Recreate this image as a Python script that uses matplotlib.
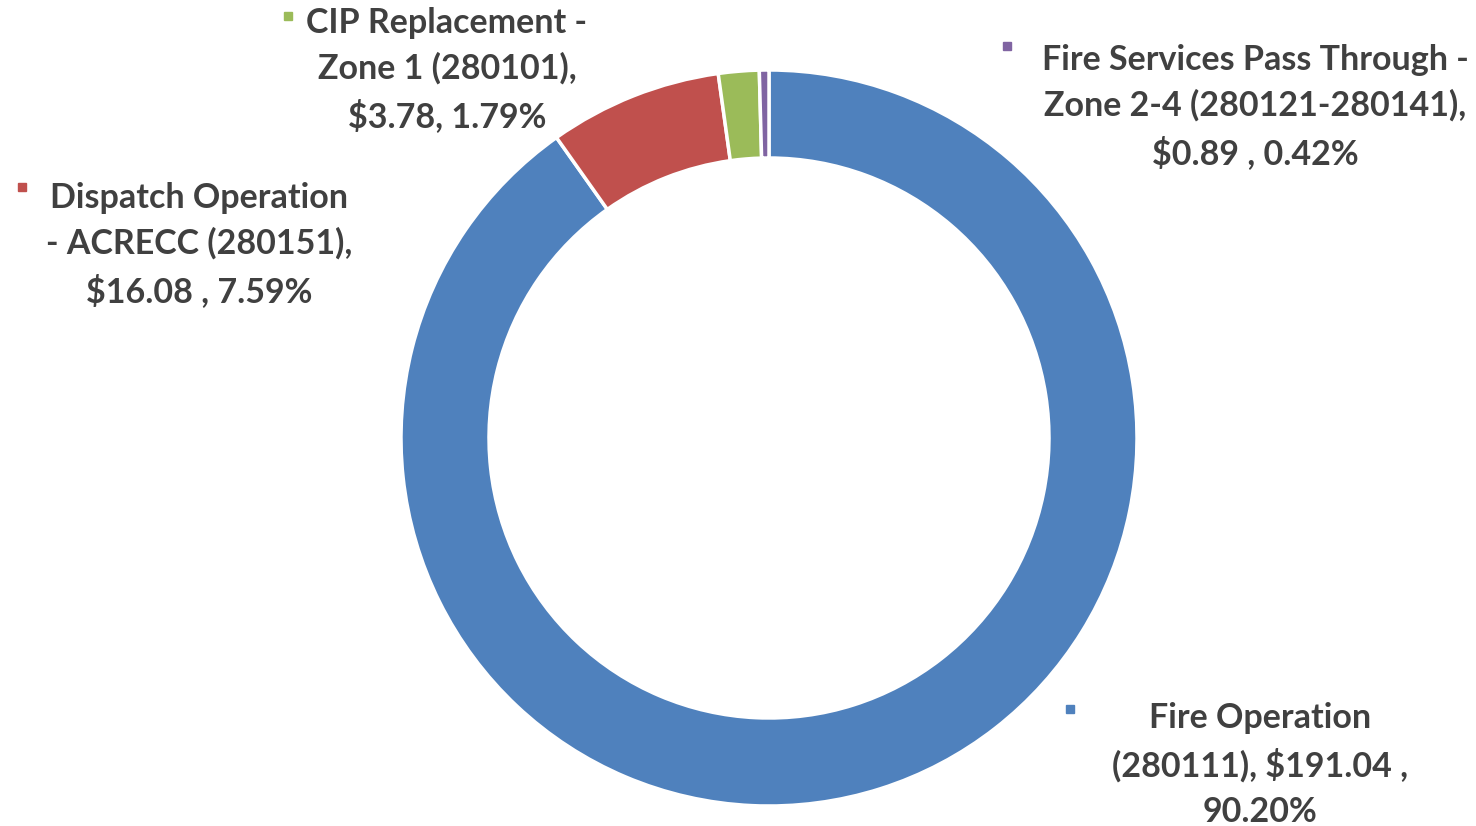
import matplotlib.pyplot as plt

# data
categories = ['Fire Operation (280111)', 'Dispatch Operation - ACRECC (280151)',
              'CIP Replacement - Zone 1 (280101)',
              'Fire Services Pass Through - Zone 2-4 (280121-280141)']
amounts = [191.04, 16.08, 3.78, 0.89]
percents = ['90.20%', '7.59%', '1.79%', '0.42%']
label_texts = [
    'Fire Operation\n(280111), $191.04 ,\n90.20%',
    'Dispatch Operation\n- ACRECC (280151),\n$16.08 , 7.59%',
    'CIP Replacement -\nZone 1 (280101),\n$3.78, 1.79%',
    'Fire Services Pass Through -\nZone 2-4 (280121-280141),\n$0.89 , 0.42%',
]
colors = ['#4F81BD', '#C0504D', '#9BBB59', '#8064A2']

W, H = 1476, 826
fig = plt.figure(figsize=(W / 100, H / 100), dpi=100)
ax = fig.add_axes([0, 0, 1, 1])

cx, cy, r_out, r_in = 769, H - 438, 368, 280
ax.pie(amounts, colors=colors, startangle=90, counterclock=False,
       center=(cx, cy), radius=r_out, frame=True,
       wedgeprops=dict(width=r_out - r_in, edgecolor='white', linewidth=2.5))
ax.set_xlim(0, W)
ax.set_ylim(0, H)
ax.set_aspect('equal')
ax.axis('off')

# label placement in pixel coords (x centre, y of middle line), marker spot
label_pos = [(1260, 765), (199, 245), (447, 70), (1255, 107)]
marker_pos = [(1070, 709), (22, 187), (288, 16), (1007, 46)]

for txt, (x, y), (mx, my), c in zip(label_texts, label_pos, marker_pos, colors):
    ax.text(x, H - y, txt, ha='center', va='center', fontsize=24.5,
            fontweight='bold', family='Lato', color='#404040', linespacing=1.5)
    ax.plot([mx], [H - my], marker='s', markersize=6, color=c, linestyle='none')

fig.savefig('out.png', dpi=100)
